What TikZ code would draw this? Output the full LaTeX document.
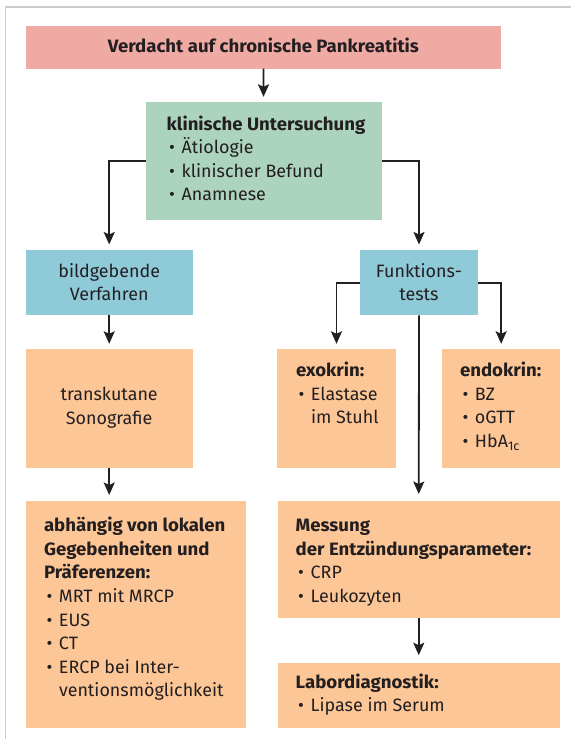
\documentclass[tikz,border=0pt]{standalone}
\usepackage{fontspec}
\setmainfont{Fira Sans}[BoldFeatures={FakeStretch=1.04}]
\usetikzlibrary{arrows.meta}

\definecolor{framegray}{HTML}{CCCCCC}
\definecolor{boxpink}{HTML}{EEAAA3}
\definecolor{boxgreen}{HTML}{ACD3BE}
\definecolor{boxblue}{HTML}{8FCAD9}
\definecolor{boxpeach}{HTML}{FDC696}
\definecolor{ink}{HTML}{231F20}

% body text and bullet lists
\newcommand\bodyfont{\fontsize{17.9}{23.6}\selectfont}
\newlength\itemind \setlength\itemind{15pt}
\newcommand\itm{\par\hangindent=\itemind\hangafter=1\noindent\makebox[\itemind][l]{\hspace{2.5pt}•}}
\newcommand\blk[2]{\begin{minipage}[t]{#1}\bodyfont\raggedright #2\end{minipage}}
\newcommand\cblk[2]{\begin{minipage}[t]{#1}\bodyfont\centering #2\end{minipage}}

% filled box given by left, top, right, bottom
\newcommand\flowbox[6]{%
  \pgfmathsetmacro\pw{#5-#3}\pgfmathsetmacro\ph{#6-#4}%
  \pgfmathsetmacro\pcx{(#3+#5)/2}\pgfmathsetmacro\pcy{(#4+#6)/2}%
  \node[panelbox, fill=#2, minimum width=\pw pt, minimum height=\ph pt] (#1) at (\pcx,\pcy) {};}

\tikzset{
  panelbox/.style={rectangle, draw=none, inner sep=0pt, outer sep=0pt},
  txt/.style={inner sep=0pt, outer sep=0pt, text=ink},
  arr/.style={draw=ink, line width=1.8pt,
    -{Stealth[length=12.5pt, width=11pt, inset=2.5pt]}, shorten >=5.5pt},
}

\begin{document}
\begin{tikzpicture}[x=1pt, y=-1pt]
\useasboundingbox (0,0) rectangle (571,739);
\fill[white] (0,0) rectangle (571,739);

% page frame
\draw[framegray, line width=1.5pt] (5.5,739) -- (5.5,7) -- (571,7);

% boxes
\flowbox{verdacht}{boxpink}{25.7}{26}{501}{68.7}
\flowbox{klinik}{boxgreen}{146}{102.3}{381.7}{220}
\flowbox{bild}{boxblue}{25.7}{250}{192.7}{315.3}
\flowbox{funk}{boxblue}{360}{250}{478}{315.3}
\flowbox{sono}{boxpeach}{25.7}{349.3}{192.7}{467.5}
\flowbox{exo}{boxpeach}{277.3}{349.3}{395.7}{467.5}
\flowbox{endo}{boxpeach}{442.3}{349.3}{560}{467.5}
\flowbox{abh}{boxpeach}{25.7}{501}{245.7}{727.7}
\flowbox{mess}{boxpeach}{277.5}{501}{560}{618.3}
\flowbox{labor}{boxpeach}{277.5}{662.7}{560}{727.7}

% texts
\node[txt, anchor=base] (tverdacht) at (263.4,52.7)
  {\bodyfont\bfseries Verdacht auf chronische Pankreatitis};
\node[txt, anchor=base west] (tklinik) at (166.7,130)
  {\blk{210pt}{\textbf{klinische Untersuchung}\itm Ätiologie\itm klinischer Befund\itm Anamnese}};
\node[txt, anchor=base] (tbild) at (109.2,277)
  {\cblk{160pt}{bildgebende\\Verfahren}};
\node[txt, anchor=base] (tfunk) at (419,277)
  {\cblk{115pt}{Funktions-\\tests}};
\node[txt, anchor=base] (tsono) at (109.2,400.7)
  {\cblk{160pt}{transkutane\\Sonografie}};
\node[txt, anchor=base west] (texo) at (296,376.7)
  {\blk{100pt}{\textbf{exokrin:}\itm Elastase\newline im Stuhl}};
\node[txt, anchor=base west] (tendo) at (460,376.7)
  {\blk{100pt}{\textbf{endokrin:}\itm BZ\itm oGTT\itm HbA\textsubscript{1c}}};
\node[txt, anchor=base west] (tabh) at (44,531.7)
  {\blk{200pt}{\textbf{abhängig von lokalen\\Gegebenheiten und\\Präferenzen:}\itm MRT mit MRCP\itm EUS\itm CT\itm ERCP bei Inter-\newline ventionsmöglichkeit}};
\node[txt, anchor=base west] (tmess) at (295.7,531.7)
  {\blk{260pt}{\textbf{Messung\\der Entzündungsparameter:}\itm CRP\itm Leukozyten}};
\node[txt, anchor=base west] (tlabor) at (295.7,688)
  {\blk{260pt}{\textbf{Labordiagnostik:}\itm Lipase im Serum}};

% connectors
\draw[arr] (verdacht) -- (klinik);
\draw[arr] (klinik.west) -| (bild.north);
\draw[arr] (klinik.east) -| (funk.north);
\draw[arr] (bild) -- (sono);
\draw[arr] (funk.west) -| (exo.north);
\draw[arr] (funk.east) -| (endo.north);
\draw[arr, shorten >=7pt] (funk.south) -- (mess.north);
\draw[arr, shorten >=6pt] (sono.south) -- (sono.south |- abh.north);
\draw[arr, shorten >=7.5pt] (mess) -- (labor);
\end{tikzpicture}
\end{document}
